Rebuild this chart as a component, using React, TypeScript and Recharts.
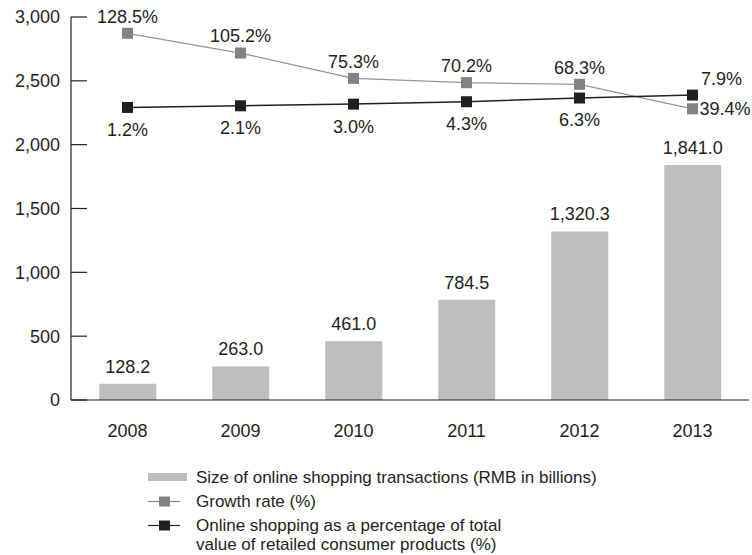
import { ComposedChart, Bar, Line, XAxis, YAxis, LabelList, Legend } from "recharts"

const years = ["2008", "2009", "2010", "2011", "2012", "2013"]
const transactions = [128.2, 263.0, 461.0, 784.5, 1320.3, 1841.0]
const growthRate = [128.5, 105.2, 75.3, 70.2, 68.3, 39.4]
const shareOfRetail = [1.2, 2.1, 3.0, 4.3, 6.3, 7.9]
const yTicks = [0, 500, 1000, 1500, 2000, 2500, 3000]

const data = years.map((year, i) => ({
  year,
  size: transactions[i],
  growth: growthRate[i],
  share: shareOfRetail[i],
}))

const INK = "#231f20"
const BAR = "#bcbec0"
const GRAY = "#808285"
const FONT = "'Liberation Sans', Arial, Helvetica, sans-serif"
const FS = 18

const fmtNum = (v: number) =>
  v.toLocaleString("en-US", { minimumFractionDigits: 1, maximumFractionDigits: 1 })

const YTick = (props: any) => {
  const { x, y, payload } = props
  return (
    <g>
      <line x1={x + 11} x2={x + 27} y1={y} y2={y} stroke={INK} strokeWidth={1.2} />
      <text x={x} y={y} dy="0.355em" textAnchor="end" fill={INK} fontSize={FS} fontFamily={FONT}>
        {payload.value.toLocaleString("en-US")}
      </text>
    </g>
  )
}

const Square = (color: string) => (props: any) => {
  const { cx, cy } = props
  if (cx == null || cy == null) return <g />
  return <rect x={cx - 5.5} y={cy - 5.5} width={11} height={11} fill={color} />
}

const growthLabel = (props: any) => {
  const { x, y, value, index } = props
  const last = index === years.length - 1
  return (
    <text
      x={last ? x + 7 : x}
      y={last ? y : y - 17}
      dy="0.355em"
      textAnchor={last ? "start" : "middle"}
      fill={INK}
      fontSize={FS}
      fontFamily={FONT}
    >
      {`${value.toFixed(1)}%`}
    </text>
  )
}

const shareLabel = (props: any) => {
  const { x, y, value, index } = props
  const last = index === years.length - 1
  return (
    <text
      x={last ? x + 29 : x}
      y={last ? y - 16 : y + 22}
      dy="0.355em"
      textAnchor="middle"
      fill={INK}
      fontSize={FS}
      fontFamily={FONT}
    >
      {`${value.toFixed(1)}%`}
    </text>
  )
}

const legendItems = [
  { kind: "bar", color: BAR, lines: ["Size of online shopping transactions (RMB in billions)"] },
  { kind: "line", color: GRAY, lines: ["Growth rate (%)"] },
  {
    kind: "line",
    color: INK,
    lines: ["Online shopping as a percentage of total", "value of retailed consumer products (%)"],
  },
]

const LegendBox = () => (
  <div style={{ fontFamily: FONT, fontSize: 17, color: INK, lineHeight: "19px" }}>
    {legendItems.map((item, i) => (
      <div key={i} style={{ display: "flex", alignItems: "flex-start", marginBottom: 5 }}>
        <svg width={48} height={19} style={{ flex: "none" }}>
          {item.kind === "bar" ? (
            <rect x={0} y={5} width={39} height={8} fill={item.color} />
          ) : (
            <g>
              <line x1={0} x2={32} y1={9.5} y2={9.5} stroke={item.color} strokeWidth={1.2} />
              <rect x={11} y={4.5} width={11} height={10} fill={item.color} />
            </g>
          )}
        </svg>
        <div>
          {item.lines.map((l, j) => (
            <div key={j}>{l}</div>
          ))}
        </div>
      </div>
    ))}
  </div>
)

export default function App() {
  return (
    <div style={{ position: "absolute", left: 0, top: 0, width: 752, height: 555, background: "#fff" }}>
      <ComposedChart
        width={752}
        height={555}
        data={data}
        margin={{ top: 17, right: 3, bottom: 125, left: 0 }}
        barCategoryGap="25%"
      >
        <XAxis
          dataKey="year"
          height={30}
          tickLine={false}
          tickSize={0}
          tickMargin={24}
          axisLine={{ stroke: INK, strokeWidth: 1.2 }}
          tick={{ fill: INK, fontSize: FS, fontFamily: FONT }}
        />
        <YAxis
          yAxisId="size"
          width={71}
          domain={[0, 3000]}
          ticks={yTicks}
          tickSize={0}
          tickMargin={11}
          tickLine={false}
          axisLine={{ stroke: INK, strokeWidth: 1.2 }}
          tick={<YTick />}
        />
        <YAxis yAxisId="growth" orientation="right" hide domain={[-304.1, 147.7]} allowDataOverflow />
        <YAxis yAxisId="share" orientation="right" hide domain={[-157.3, 50.2]} allowDataOverflow />
        <Bar yAxisId="size" dataKey="size" fill={BAR} isAnimationActive={false}>
          <LabelList
            dataKey="size"
            position="top"
            offset={11}
            formatter={(v: any) => fmtNum(Number(v))}
            style={{ fill: INK, fontSize: FS, fontFamily: FONT }}
          />
        </Bar>
        <Line
          yAxisId="growth"
          dataKey="growth"
          stroke="#939598"
          strokeWidth={1.3}
          dot={Square(GRAY)}
          activeDot={false}
          isAnimationActive={false}
        >
          <LabelList dataKey="growth" content={growthLabel} />
        </Line>
        <Line
          yAxisId="share"
          dataKey="share"
          stroke={INK}
          strokeWidth={1.5}
          dot={Square(INK)}
          activeDot={false}
          isAnimationActive={false}
        >
          <LabelList dataKey="share" content={shareLabel} />
        </Line>
        <Legend
          verticalAlign="middle"
          layout="horizontal"
          content={<LegendBox />}
          wrapperStyle={{ top: 468, left: 148, width: 520 }}
        />
      </ComposedChart>
    </div>
  )
}
